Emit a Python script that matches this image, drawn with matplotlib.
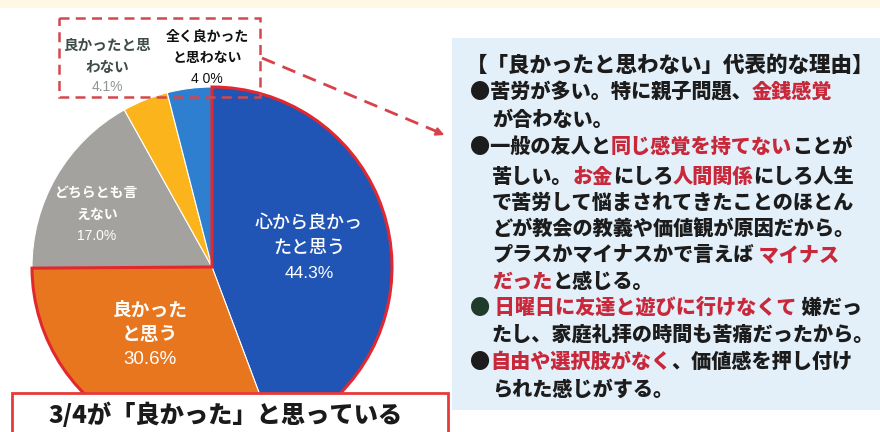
import matplotlib
matplotlib.use("Agg")
import matplotlib.pyplot as plt
from matplotlib.patches import Wedge, Rectangle

plt.rcParams['font.family'] = ['Noto Sans CJK JP', 'DejaVu Sans']

# ---------------- data ----------------
categories = ["心から良かったと思う", "良かったと思う", "どちらとも言えない",
              "良かったと思わない", "全く良かったと思わない"]
label_text = ["心から良かっ\nたと思う", "良かった\nと思う", "どちらとも言\nえない",
              "良かったと思\nわない", "全く良かった\nと思わない"]
values = [44.3, 30.6, 17.0, 4.1, 4.0]
pct_text = ["44.3%", "30.6%", "17.0%", "4.1%", "4 0%"]
colors = ['#2155B5', '#E8761F', '#A4A29F', '#FBB41C', '#2F7FD1']

banner_text = "3/4が「良かった」と思っている"
panel_title = "【「良かったと思わない」代表的な理由】"

K = '#1C1C1C'
R = '#C9273A'
G = '#1F3B2B'
panel_lines = [
    [(panel_title, K)],
    [("●苦労が多い。特に親子問題、", K), ("金銭感覚", R)],
    [("が合わない。", K)],
    [("●一般の友人と", K), ("同じ感覚を持てない", R), ("ことが", K)],
    [("苦しい。", K), ("お金", R), ("にしろ", K), ("人間関係", R), ("にしろ人生", K)],
    [("で苦労して悩まされてきたことのほとん", K)],
    [("どが教会の教義や価値観が原因だから。", K)],
    [("プラスかマイナスかで言えば", K), (" マイナス", R)],
    [("だった", R), ("と感じる。", K)],
    [("●", G), (" 日曜日に友達と遊びに行けなくて", R), (" 嫌だっ", K)],
    [("たし、家庭礼拝の時間も苦痛だったから。", K)],
    [("●", K), ("自由や選択肢がなく", R), ("、価値感を押し付け", K)],
    [("られた感じがする。", K)],
]

# ---------------- figure ----------------
W, H = 880, 432
fig = plt.figure(figsize=(W / 100, H / 100), dpi=100)
fig.patch.set_facecolor('white')

cx, cy, r = 212, 267, 180
ax = fig.add_axes([(cx - r) / W, (H - cy - r) / H, 2 * r / W, 2 * r / H])
ax.set_zorder(1)
wedges, _ = ax.pie(values, colors=colors, startangle=90, counterclock=False,
                   radius=1.0, wedgeprops=dict(edgecolor='white', linewidth=0.8))
for w in wedges:
    w.set_clip_on(False)
ax.set_xlim(-1, 1)
ax.set_ylim(-1, 1)
ax.set_aspect('equal')
ax.axis('off')

# red outline around the "good" answers (first two wedges)
good = Wedge((0, 0), 1.0, wedges[1].theta1, wedges[0].theta2, fill=False,
             edgecolor='#E0282E', linewidth=2.2, zorder=5)
good.set_clip_on(False)
ax.add_patch(good)

# overlay axes in pixel coordinates
ov = fig.add_axes([0, 0, 1, 1])
ov.set_zorder(2)
ov.set_xlim(0, W)
ov.set_ylim(H, 0)
ov.axis('off')
ov.patch.set_alpha(0)

# top pale band
ov.add_patch(Rectangle((0, 0), W, 8, facecolor='#FFF8E4', edgecolor='none'))
# right panel
ov.add_patch(Rectangle((452, 38), W - 452, 372, facecolor='#E3F0F9', edgecolor='none'))

# dashed box around the negative answers
ov.add_patch(Rectangle((59, 18), 201, 79, fill=False, edgecolor='#D3484E',
                       linewidth=1.8, linestyle=(0, (4, 2.5)), zorder=6))
# dashed arrow to the panel
ov.plot([262, 438], [58, 132], color='#D8414A', lw=2, linestyle=(0, (5, 3)), zorder=6)
ov.annotate('', xy=(447, 136), xytext=(436, 131.5),
            arrowprops=dict(arrowstyle='-|>', color='#D8414A', lw=1.5,
                            mutation_scale=12), zorder=6)

# pie labels
lab_cfg = [
    # x, y first line, step, fontsize, weight, color, pct y, pct size, pct color
    (309, 223, 25, 13, 'medium', 'white', 274, 12.5, 'white'),
    (150, 310, 25, 13.5, 'bold', 'white', 360, 13.5, 'white'),
    (97, 193, 22, 10, 'bold', 'white', 236, 10, 'white'),
    (107, 45, 22, 10.5, 'bold', '#3E4B49', 87, 10, '#8E9596'),
    (207, 37, 21, 10, 'bold', '#111111', 79, 10, '#111111'),
]
for name, pct, cfg in zip(label_text, pct_text, lab_cfg):
    x, y0, step, fs, wt, col, py, pfs, pcol = cfg
    for i, ln in enumerate(name.split('\n')):
        ov.text(x, y0 + i * step, ln, fontsize=fs, fontweight=wt, color=col,
                ha='center', va='center', zorder=7)
    ov.text(x, py, pct, fontsize=pfs, color=pcol, ha='center', va='center',
            family=['Liberation Sans', 'DejaVu Sans'], zorder=7)

# bottom banner
ov.add_patch(Rectangle((12, 393), 436, 48, facecolor='white', edgecolor='#E8393A',
                       linewidth=2, zorder=8))
ov.text(226, 415, banner_text, fontsize=17.5, fontweight='heavy', color='#1A1A1A',
        ha='center', va='center', zorder=9)

# right panel text with coloured segments
line_x = [466, 470, 492, 470, 492, 492, 492, 492, 492, 470, 492, 470, 492]
line_y = [65, 92, 120, 147, 177, 203, 230, 255, 282, 308, 335, 362, 390]
line_fs = [15.5] + [14.5] * 12
renderer = fig.canvas.get_renderer()
for segs, x0, y, fs in zip(panel_lines, line_x, line_y, line_fs):
    prefix = ''
    for txt, col in segs:
        if prefix:
            tmp = ov.text(x0, y, prefix, fontsize=fs, fontweight='heavy',
                          ha='left', va='center')
            w = tmp.get_window_extent(renderer).width
            tmp.remove()
            x = x0 + w
        else:
            x = x0
        ov.text(x, y, txt, fontsize=fs, fontweight='heavy', color=col,
                ha='left', va='center', zorder=7)
        prefix += txt

fig.savefig('out.png', dpi=100)
